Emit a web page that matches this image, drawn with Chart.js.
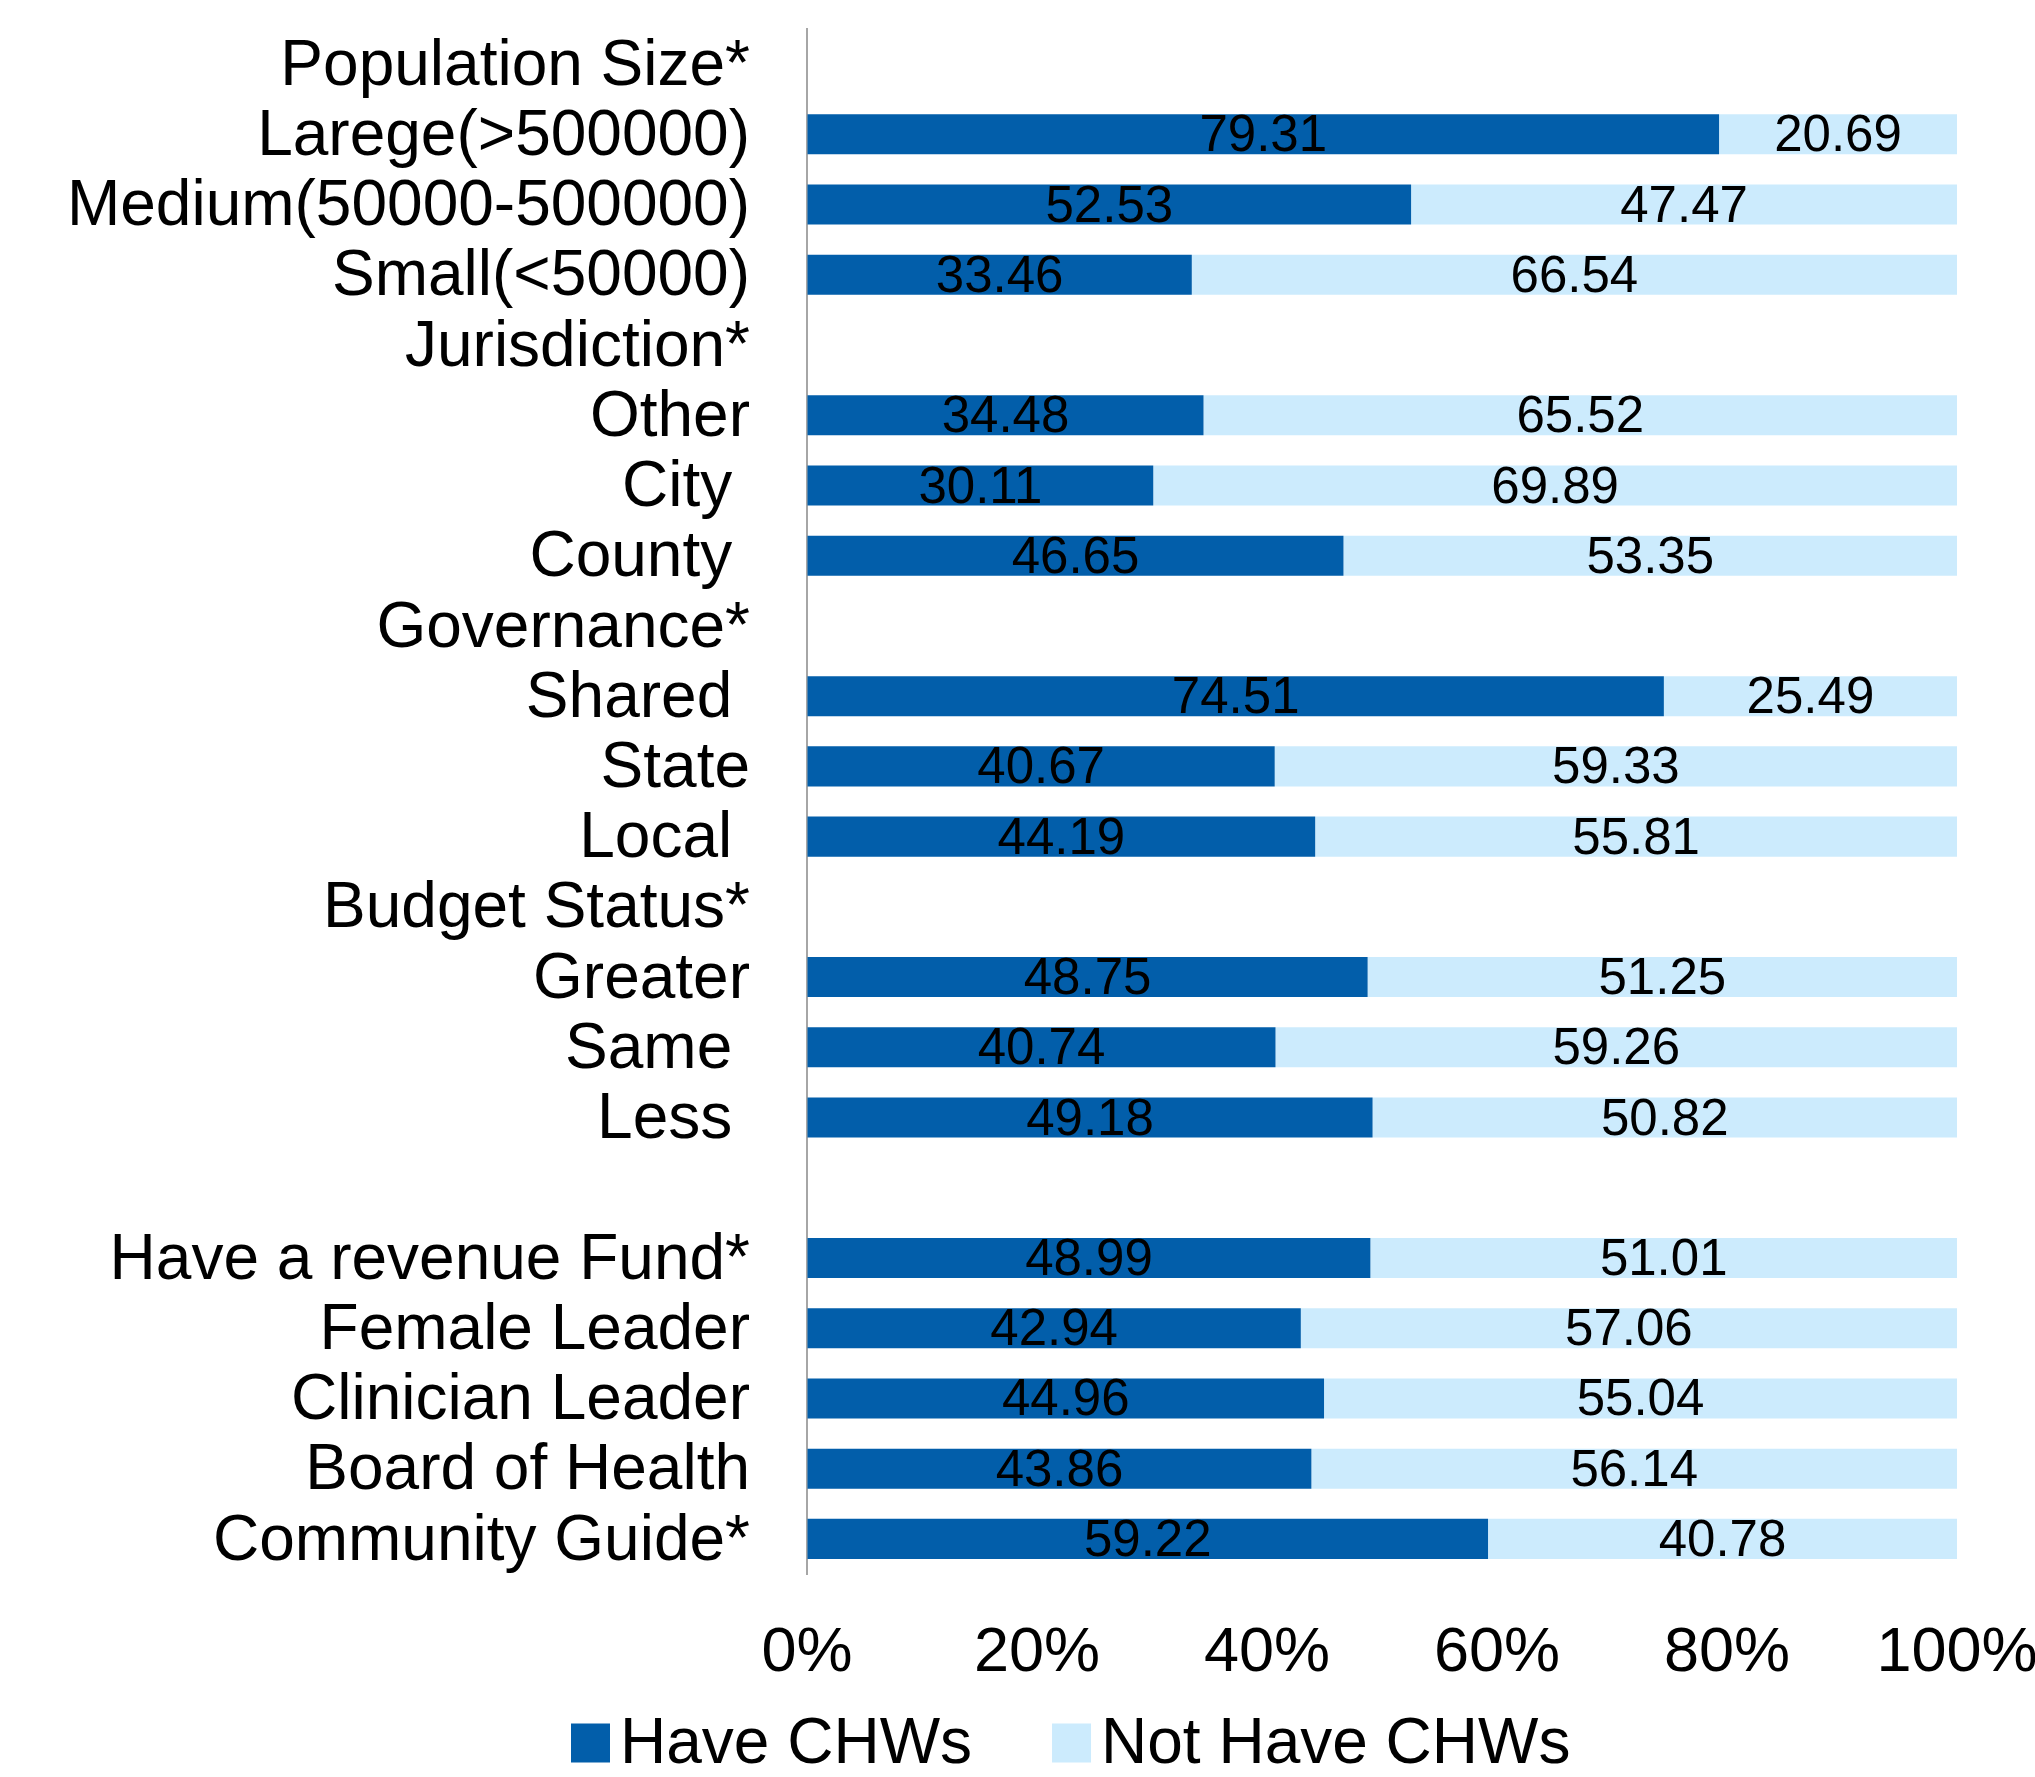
<!DOCTYPE html>
<html>
<head>
<meta charset="utf-8">
<script src="https://cdn.jsdelivr.net/npm/chart.js@4/dist/chart.umd.min.js"></script>
<style>
html,body{margin:0;padding:0;background:#fff;}
#wrap{width:2035px;height:1777px;}
</style>
</head>
<body>
<div id="wrap"><canvas id="c" width="2035" height="1777"></canvas></div>
<script>
const categories = ["Population Size*","Larege(>500000)","Medium(50000-500000)","Small(<50000)","Jurisdiction*","Other","City ","County ","Governance*","Shared ","State","Local ","Budget Status*","Greater","Same ","Less ","","Have a revenue Fund*","Female Leader","Clinician Leader","Board of Health","Community Guide*"];
const haveCHWs = [null,79.31,52.53,33.46,null,34.48,30.11,46.65,null,74.51,40.67,44.19,null,48.75,40.74,49.18,null,48.99,42.94,44.96,43.86,59.22];
const notHaveCHWs = [null,20.69,47.47,66.54,null,65.52,69.89,53.35,null,25.49,59.33,55.81,null,51.25,59.26,50.82,null,51.01,57.06,55.04,56.14,40.78];
const seriesNames = ["Have CHWs","Not Have CHWs"];
const seriesColors = ["#025EAA","#CCEBFD"];
const xTicks = [0,20,40,60,80,100];

const FONT = "'Liberation Sans', Arial, sans-serif";

const valueLabels = {
  id: 'valueLabels',
  afterDatasetsDraw(chart) {
    const ctx = chart.ctx;
    ctx.save();
    ctx.font = "51px " + FONT;
    ctx.fillStyle = "#000";
    ctx.textAlign = "center";
    ctx.textBaseline = "middle";
    chart.data.datasets.forEach((ds, di) => {
      const meta = chart.getDatasetMeta(di);
      meta.data.forEach((bar, i) => {
        const v = ds.data[i];
        if (v === null || v === undefined) return;
        const p = bar.getProps(['x','y','base'], true);
        const cx = (p.x + p.base) / 2;
        ctx.fillText(v.toFixed(2), cx, p.y + 3);
      });
    });
    ctx.restore();
  }
};

const customLegend = {
  id: 'customLegend',
  afterDraw(chart) {
    const ctx = chart.ctx;
    ctx.save();
    ctx.font = "64px " + FONT;
    ctx.textBaseline = "middle";
    ctx.textAlign = "left";
    const cy = 1743, box = 39, gapText = 10, gapItem = 80;
    let x = 571;
    chart.data.datasets.forEach((ds) => {
      ctx.fillStyle = ds.backgroundColor;
      ctx.fillRect(x, cy - box / 2, box, box);
      ctx.fillStyle = "#000";
      ctx.fillText(ds.label, x + box + gapText, cy + 2);
      x += box + gapText + ctx.measureText(ds.label).width + gapItem;
    });
    ctx.restore();
  }
};

new Chart(document.getElementById('c'), {
  type: 'bar',
  data: {
    labels: categories,
    datasets: [
      { label: seriesNames[0], data: haveCHWs, backgroundColor: seriesColors[0], categoryPercentage: 1.0, barPercentage: 0.57 },
      { label: seriesNames[1], data: notHaveCHWs, backgroundColor: seriesColors[1], categoryPercentage: 1.0, barPercentage: 0.57 }
    ]
  },
  options: {
    indexAxis: 'y',
    responsive: false,
    animation: false,
    layout: { padding: { top: 29, right: 78, bottom: 83, left: 0 } },
    scales: {
      x: {
        stacked: true,
        min: 0, max: 100,
        afterBuildTicks(s) { s.ticks = xTicks.map(v => ({ value: v })); },
        afterFit(s) { s.height = 120; s.paddingLeft = 0; s.paddingRight = 0; },
        grid: { display: true, drawOnChartArea: false, drawTicks: true, tickLength: 42, tickColor: 'rgba(0,0,0,0)', color: 'rgba(0,0,0,0)' },
        border: { display: false },
        ticks: {
          padding: 0,
          color: '#000',
          font: { family: FONT, size: 63 },
          callback: v => v + '%',
          maxRotation: 0
        }
      },
      y: {
        stacked: true,
        afterFit(s) { s.width = 807; s.paddingTop = 0; s.paddingBottom = 0; },
        grid: { display: true, drawOnChartArea: false, drawTicks: true, tickLength: 57, tickColor: 'rgba(0,0,0,0)', color: 'rgba(0,0,0,0)' },
        border: { display: true, color: '#A6A6A6', width: 2 },
        ticks: {
          padding: 0,
          labelOffset: 3,
          color: '#000',
          autoSkip: false,
          font: { family: FONT, size: 64 }
        }
      }
    },
    plugins: {
      legend: { display: false },
      tooltip: { enabled: false }
    }
  },
  plugins: [valueLabels, customLegend]
});
</script>
</body>
</html>
